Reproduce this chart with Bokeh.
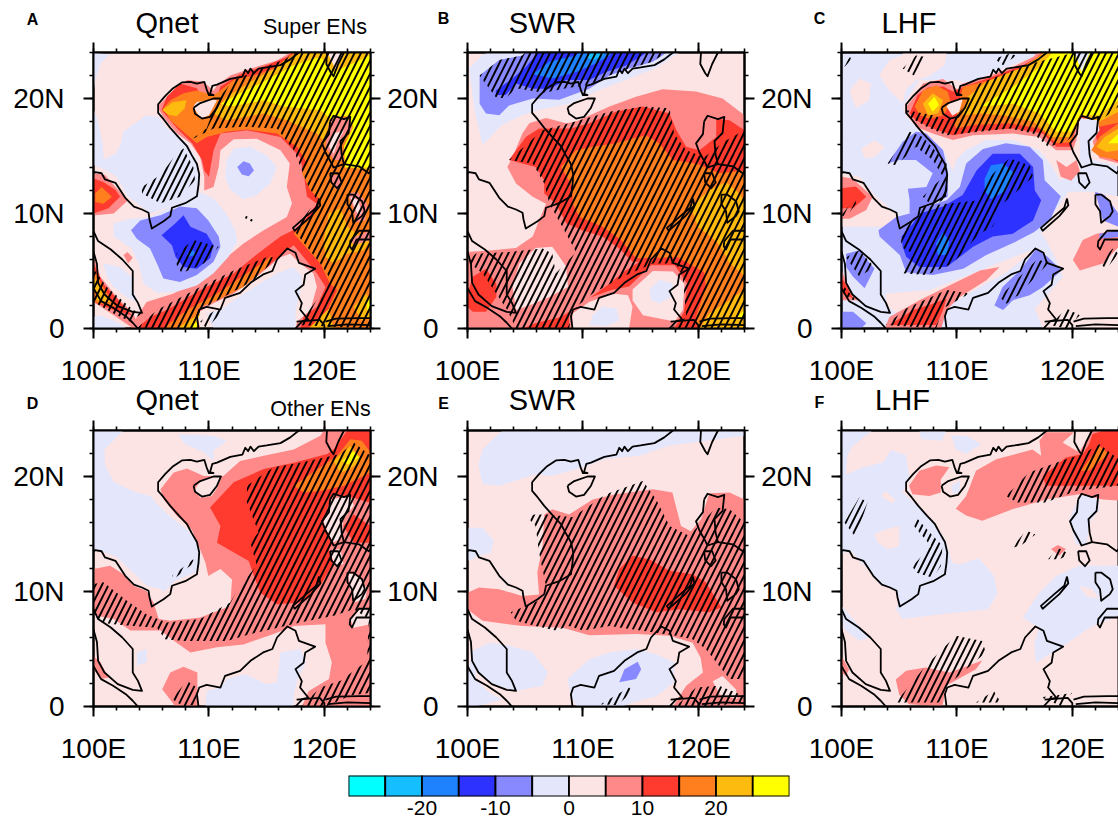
from bokeh.plotting import figure
from bokeh.layouts import row, column
from bokeh.models import Range1d, FixedTicker, LinearAxis, CustomLabelingPolicy
from bokeh.core.properties import value
from bokeh.embed import file_html
from bokeh.resources import INLINE

LEVEL_COLORS = ["#00FFFF", "#14BEFF", "#1E82FF", "#2D32FF", "#8888FF", "#E4E6FB",
                "#FCE4E4", "#FF8888", "#FF3A2E", "#FF7F1E", "#FDBB10", "#FFFF00"]
LEVEL_EDGES = [-30, -25, -20, -15, -10, -5, 0, 5, 10, 15, 20, 25, 30]
BAR_TICKS = [-20, -10, 0, 10, 20]
LON_TICKS = [100, 110, 120]
LAT_TICKS = [0, 10, 20]
MINOR_LON = [100, 102, 104, 106, 108, 110, 112, 114, 116, 118, 120, 122, 124]
MINOR_LAT = [0, 2, 4, 6, 8, 10, 12, 14, 16, 18, 20, 22, 24]

COAST = [
 [(117.8,24),(117.05,23.4),(116.2,22.9),(115,22.7),(114.3,22.6),(113.9,22.2),(113.6,22.6),(113.4,22.2),(113.15,22.5),(112.9,21.9),(111.85,21.7),(110.7,21.2),(110.3,21.1),(110.1,20.4),(110.4,20.3),(110,20.3),(109.8,20.8),(109.6,21.45),(108.96,21.3),(108.4,21.45),(107.66,21.4),(106.9,20.9),(106.2,20.2),(105.6,19.5),(105.6,18.75),(106.07,18.2),(106.65,17.45),(107.4,16.6),(108.1,15.85),(108.5,15.1),(108.96,14.3),(109.16,13.4),(109.1,12.5),(108.96,11.5),(107.95,10.9),(106.8,10.5),(106.65,9.77),(106.07,9.33),(105.05,8.7),(104.85,9.5),(104.77,10.06),(104.2,10.35),(103.5,10.6),(102.75,11.36),(101.9,12.67),(101,12.96),(100.7,13.5),(100.15,13.6),(100,13.5)],
 [(100,8.46),(100.4,7.6),(101.5,6.87),(102.5,6),(103.4,5),(103.4,2.96),(103.85,2.23),(104.2,1.36),(103.4,1.45),(102.1,1.94),(100.95,2.96),(100.4,3.97),(100.3,5.6),(100,6.7)],
 [(100,3.5),(100.66,2.38),(101.7,1.8),(102.8,1.07),(103.4,0.5),(103.85,0)],
 [(109.1,0),(108.96,1.07),(109.16,1.65),(109.8,1.88),(111,1.65),(111.4,2.67),(112.7,3.1),(113.6,3.97),(114.7,4.7),(115.5,5),(115.9,6),(116.8,6.96),(117.5,6.58),(117.8,5.7),(119.2,5.2),(118.35,4.7),(118.2,3.8),(117.5,3.25),(118.05,2.2),(117.9,1.65),(118.6,0.78),(118.1,0.64),(117.5,0)],
 [(108.67,19.2),(109.25,19.6),(110.4,20),(111.04,20),(110.7,19.2),(110.1,18.4),(109.4,18.26),(108.8,18.67),(108.67,19.2)],
 [(120.23,24),(120.17,23),(120.6,22.2),(120.8,21.94),(121.2,23),(121.7,24)],
 [(120.5,18),(120.8,18.5),(121.7,18.2),(122.25,18.4),(122.1,17),(121.4,16.3),(121.5,15.1),(121.7,14.3),(123,14.1),(123.85,13.5),(124,13.7)],
 [(120.5,18),(120.4,16.9),(119.8,16.1),(120.1,15.3),(120.6,14.4),(120.8,14),(121.7,14.3)],
 [(120.5,13.5),(121.2,13.5),(121.5,12.7),(121.1,12.2),(120.6,12.7),(120.5,13.5)],
 [(122,11.65),(122.5,11.65),(123.27,11.07),(123.5,10.2),(123.25,9.77),(122.5,9.2),(122.4,10.2),(122,10.8),(122,11.65)],
 [(124,8.5),(123,8.5),(122.25,7.6),(122.2,7.15),(122.4,6.87),(122.8,7.74),(124,7.74)],
 [(119.54,11.3),(119.65,10.7),(118.87,9.77),(117.43,8.5),(117.28,8.75),(118.44,9.77),(119.3,10.5),(119.54,11.3)],
 [(117.6,0.6),(119.6,0.75),(120,0.3),(120,0)],
 [(120.1,0.6),(121,0.85),(123,0.9),(124,0.9)],
 [(120.3,0.2),(122,0.35),(124,0.3)],
]

A_FILLS = [
 (7,[(117.05,24),(115.9,23.3),(113.6,22.6),(111.85,22),(110.7,21.15),(110.4,20.7),(109.5,21.45),(108.1,21.6),(106.65,20.4),(105.5,19.3),(106.05,18.4),(107.2,17),(108.4,16.1),(109.25,14.9),(109.6,13.2),(109.6,12),(110.4,12.3),(110.85,14.05),(111,15.5),(112.15,16.45),(114.15,16.5),(116.2,15.5),(117,14.35),(116.75,12.3),(117.2,10.9),(116.75,9.7),(114.75,8.55),(113,7.4),(111.25,5.95),(109.25,4.5),(106.95,3.05),(104.6,2.3),(103.75,1),(103.3,0),(109.25,0),(108.95,1.3),(110.4,2.2),(112.15,3.05),(114.15,4.5),(116.2,6.2),(117.05,6.5),(117.9,5.65),(119.05,4.8),(119.35,3.6),(118.8,1.6),(117.65,0.6),(117.5,0),(124,0),(124,24)]),
 (8,[(117.2,24),(116.75,23.6),(115,22.9),(112.7,22.1),(111,21.05),(110.7,20.15),(109.25,20.45),(108.95,20.9),(107.5,21.3),(106.35,20.15),(105.9,19),(107.25,17.4),(108.55,16.1),(109.4,14.65),(109.6,13.75),(110,13.2),(110.4,15.5),(111,16.95),(113.3,17.25),(116.2,16.65),(117.9,14.9),(118.2,13.5),(118.5,11.45),(119.35,10.85),(117.9,8.85),(116.2,8),(113.9,6.25),(112.15,4.8),(109.25,3.35),(106.35,1.6),(104.9,1),(103.75,0),(109,0),(109,1.75),(110.7,2.75),(113,3.9),(115,5.35),(116.75,6.8),(117.35,7.25),(119.35,4.8),(120.1,3.6),(119.35,1.9),(118.2,1),(117.9,0),(124,0),(124,24)]),
 (9,[(117.35,24),(115.6,22.6),(113.9,22),(112.15,21.6),(111,20.7),(110.4,20.3),(108.95,20.7),(107.8,20.45),(106.65,19.85),(106.05,19.15),(106.65,18.1),(107.95,16.95),(108.95,16.1),(109.8,16.65),(111.55,17.1),(113.3,17.3),(115.9,16.95),(117.65,15.8),(118.5,14.35),(118.05,13.5),(118.8,12),(119.65,11.15),(119.05,10),(117.35,8.25),(119.65,5.65),(120.5,3.9),(121.1,3.35),(120.4,1.9),(120.4,0),(124,0),(124,24)]),
 (10,[(117.65,24),(116.2,22.9),(113.9,21.6),(111.55,20.15),(110.4,18.7),(111.55,18.1),(114.75,18.7),(116.75,18.1),(119.35,16.95),(119.95,16.35),(120.4,17.7),(120.8,18.55),(122,18.4),(122.4,17.55),(121.7,15.8),(122,14.05),(124,13.75),(124,24)]),
 (11,[(117.35,22.9),(119.65,23.6),(120.8,22.3),(123.7,23.6),(124,23.9),(124,14),(121.8,14),(121.7,15.8),(122.55,17.55),(122,18.55),(120.55,18.25),(119.65,19),(116.5,19.3),(114.75,19.85),(111.85,19.3),(111,19.55),(112.7,20.45),(115,21.6)]),
 (10,[(105.95,19.0),(106.9,19.7),(108.05,19.85),(107.9,19.15),(107.2,18.45),(106.45,18.6)]),
 (10,[(119.95,7.7),(120.4,10),(121.4,10.45),(122,8.85),(122.85,8.25),(124,7.7),(123.4,6.8),(122,6.5),(120.8,5.65),(120.1,6.25)]),
 (10,[(122.55,1.9),(123.7,3.05),(124,1),(123.25,0.7)]),
 (11,[(123.7,2.3),(124,2.9),(124,1.5),(123.7,1.6)]),
 (10,[(118.65,0),(120.4,1.75),(120.8,0)]),
 (9,[(106.05,0),(108.1,1.6),(110.7,3.05),(113.3,4.8),(115,5.95),(115.45,6.4),(115,5.35),(113,3.6),(110.7,2.45),(109,1.75),(109,0)]),
 (10,[(107.2,0),(109.25,1.3),(109,0.7),(109,0)]),
 (11,[(108.25,0),(109,0.6),(109,0)]),
 (7,[(100,6.2),(100.6,4.5),(102,2.75),(103.45,1.3),(104.05,0),(103.45,0),(101.75,1.15),(100,2.3)]),
 (8,[(100,5.65),(100.85,3.9),(102.3,2.3),(103.3,1.15),(101.75,1.6),(100,2.3)]),
 (9,[(100,5.2),(100.85,3.6),(101.9,1.9),(100,2.3)]),
 (10,[(100,4.5),(100.85,3.2),(101.45,2.3),(100.3,2.45)]),
 (7,[(100,13.5),(101,13.35),(101.9,12.3),(103,11.15),(101.75,10),(100.15,9.85),(100,10)]),
 (8,[(100,13.05),(100.85,12.75),(101.9,12.05),(102.3,11.45),(101.3,10.45),(100,10)]),
 (9,[(100.15,11.75),(100.7,12.3),(101.6,11.45),(100.85,10.85),(100.15,11)]),
 (5,[(100,19.15),(100.45,17.85),(100.8,16.1),(100.9,14.7),(101.9,15.2),(102.45,16.25),(102.55,17.1),(103.45,17.75),(104.6,18.55),(105.65,18.4),(106.35,17.4),(108.1,16.1),(108.95,14.65),(109.25,13.2),(109.15,11.9),(108.1,11.15),(106.65,10.6),(104.9,10),(104.35,10.45),(103,11.45),(102,13.2),(100.85,13.9),(100,14.2)]),
 (5,[(106.65,10.6),(109.15,11.9),(110.4,11.3),(111.4,10.15),(112.3,8.55),(112.45,7.55),(111.7,6.25),(110.4,4.8),(108.95,3.75),(107.2,3.2),(105.5,3.1),(104.35,3.9),(103.9,5.65),(103.3,6.95),(101.75,8),(101.75,9.15),(103.2,9.55),(104.9,9.7)]),
 (5,[(100.85,5.65),(102.3,5.35),(103.3,4.5),(103.4,3.35),(103.9,2.3),(103,2.6),(101.75,3.6),(101.15,4.5)]),
 (7,[(102.6,6.4),(102.95,6.65),(103.4,6.15),(103,5.65)]),
 (5,[(100,1),(100.6,1.15),(101.9,0.6),(102.9,0),(100,0)]),
 (5,[(110.4,0),(109.8,1.3),(111,1.6),(112.15,2.45),(113.9,3.6),(115.9,4.8),(117.35,5.35),(118.05,4.5),(117.9,3.05),(117.5,1.6),(117.5,0)]),
 (5,[(100,24),(101.4,23.8),(100.6,23),(100.15,21.5),(100,20.5)]),
 (5,[(111.55,14.65),(112.15,15.65),(113.6,15.8),(115,15.05),(115.9,14.05),(115.3,12.6),(114.15,11.6),(113,11.25),(111.85,12.05),(111.4,13.2)]),
 (4,[(112.45,14.05),(113,14.55),(113.55,14.35),(113.9,13.75),(113.45,13.25),(112.85,13.4)]),
 (4,[(103.25,8.55),(104.05,9.4),(105.8,9.85),(107.5,10.6),(108.95,10.45),(109.95,9.4),(110.85,8),(111,7.1),(110.4,5.8),(108.95,4.65),(107.5,4.05),(106.05,4.35),(105.5,5.65),(104.9,6.95),(103.75,7.8)]),
 (3,[(105.9,8.1),(107.1,9.15),(107.8,9.85),(108.4,8.85),(109.8,8.25),(110.4,7.25),(110.1,6.1),(108.95,5.2),(107.8,5.35),(107.1,6.25),(106.8,7.25)]),
 (2,[(108.1,6.5),(108.7,6.8),(108.8,6.4),(108.25,6.25)]),
 (7,[(120.4,17.85),(120.95,18.55),(122.25,18.1),(122.4,17.4),(121.4,16.1),(121.7,14.65),(120.8,14.65),(120.1,15.8)]),
 (6,[(120.8,16.95),(121.7,17.25),(121.1,16.1),(120.8,15.2),(120.4,15.8)]),
 (7,[(120.5,13.35),(121.25,13.35),(121.5,12.3),(120.95,12.15)]),
 (7,[(122,11.75),(122.85,11.9),(123.7,10.85),(123.55,9.4),(122.7,9.25),(122.55,10.3)]),
 (6,[(122.25,11.45),(122.95,11.15),(123.25,10),(122.85,10)]),
 (7,[(122.25,7.8),(124,8.55),(124,7.7),(122.55,7.25)]),
 (6,[(108.65,19.3),(108.95,19.7),(110.4,19.9),(110.7,19.85),(110,18.55),(109.25,18.25)]),
 (6,[(120.25,24),(121.7,24),(121,22.5)]),
]
A_HATCH = [
 [(117.3,24),(116.75,23.5),(112.15,21.6),(110.7,19.85),(109.8,17.4),(108.4,16.4),(110.4,17.4),(113,17.55),(115.9,17.4),(117.35,15.5),(118.5,12.6),(119.35,11.15),(117.35,8.55),(119.65,5.65),(120.4,4.5),(119.35,2.45),(117.65,0.3),(124,0),(124,24)],
 [(103.75,0),(105.5,1.6),(109.25,3.6),(112.15,5.05),(115,6.2),(115.9,6.2),(113.9,4.2),(111.55,2.9),(109.25,1.6),(109,0)],
 [(100,5.2),(101.15,3.6),(103.45,1.6),(104.2,1.3),(103.15,0.6),(101.75,1.3),(100,2.3)],
 [(104.2,12.3),(105.8,13.35),(107.2,15.2),(107.8,15.65),(108.65,14.05),(108.8,12.9),(107.5,11.45),(105.8,10.9),(104.2,11.75)],
 [(107.2,6.5),(108.65,7.7),(110.85,7.1),(109.55,5.65),(107.65,4.8),(107.15,5.65)],
 [(113.15,9.85),(113.9,9.4),(113.9,9.2),(113.1,9.6)],
 [(109.25,0.6),(110.7,1.75),(111.15,1.45),(109.8,0)],
]

B_FILLS = [
 (5,[(101.8,24),(118.5,24),(118.05,23.8),(116.3,22.6),(114,21.75),(111.1,20.6),(108.8,19.55),(106.2,19),(104.75,18.55),(103,17.7),(101.3,15.95),(100.6,19),(100.15,22.6),(101.3,23.8)]),
 (4,[(101.05,22),(102.75,23.35),(104.75,23.75),(105,24),(117.2,24),(116.9,23.75),(116.05,23.2),(114,22.6),(112.3,22),(110.55,20.85),(107.95,19.9),(105.65,20),(103.6,19.4),(102.75,18.55),(101.6,18.7),(101.05,19.55)]),
 (3,[(102.45,20.7),(103.9,21.75),(105.05,22.75),(105.9,23.75),(106,24),(115.5,24),(115.15,23.75),(113.7,22.85),(112,22.3),(110.55,21.6),(108.55,21.6),(107.1,20.85),(105.65,20.85),(104.2,21.3),(103.3,20.3),(102.45,20.3)]),
 (2,[(105.65,22.1),(107.1,23.2),(109.4,23.75),(109.6,24),(112.5,24),(112.3,23.75),(111.1,23.05),(109.4,22.3),(107.35,21.75)]),
 (1,[(110.3,23.6),(110.6,24),(111.9,24),(111.7,23.75),(110.85,23.3)]),
 (7,[(124,18.55),(122.1,20),(119.8,20.6),(116.9,20.8),(114.6,20.15),(112.3,19.3),(109.4,18),(108.55,17.85),(106.8,18.3),(105.35,17.85),(104.75,16.95),(103.9,14.9),(103.45,14.05),(104.2,12.6),(105.65,11.45),(106.8,10.85),(106.2,9.4),(105.65,8),(104.2,7),(102.15,6.8),(100,6.65),(100,0),(124,0)]),
 (8,[(124,17.25),(122.7,18.1),(121.55,18.25),(121.55,16.65),(120.1,15.5),(118.95,15.8),(118.1,17.25),(117.5,18.7),(115.2,19.3),(112.85,18.85),(110.55,17.85),(108.95,17.4),(106.2,17.4),(105.05,16.65),(103.6,14.65),(105.9,14.05),(106.65,12.9),(106.65,11.75),(107.65,10.85),(108.55,9.15),(109.95,8.55),(111.7,8),(113.15,6.95),(114.3,5.8),(114.9,5.8),(113.45,4.9),(112.3,3.9),(109.95,2.2),(108.1,1),(105.85,0.45),(104.8,0),(124,0)]),
 (9,[(108.1,14.05),(109.4,15.5),(110.85,15.8),(112.85,16.1),(115.45,16.8),(116.6,16.1),(117.8,14.65),(119.8,14.35),(121.8,13.5),(124,13.75),(124,0),(119.95,0),(119.8,1),(120.65,3.6),(120.5,4.9),(118.2,6.2),(114.6,6.1),(113.3,7.7),(111.7,8.85),(109.7,9.7),(109.1,10.85),(109.1,12.3)]),
 (10,[(119.35,10.6),(120.95,12),(122.4,12.75),(123.55,11.75),(124,11),(124,4.6),(122.7,5.7),(121.85,7.25),(120.95,8.1),(119.95,8.85)]),
 (10,[(120.1,0),(120.95,1.3),(122.7,2.45),(124,3.4),(124,0)]),
 (11,[(123.4,1),(124,1.6),(124,0.9)]),
 (8,[(100,3),(100.45,4.5),(101.6,5.2),(102.5,3.9),(102.5,2.75),(101.6,1.45),(100.45,1.45),(100,1.9)]),
 (7,[(108.8,0),(108.8,1.45),(110.4,2.6),(112.45,3.35),(114,3.65),(115.9,5.5),(117.95,5.5),(119.05,3.9),(118.75,1.45),(117.9,0)]),
 (6,[(103.9,3.6),(104.5,5.65),(105.9,7),(107.35,7.1),(108.55,5.4),(108.7,3.6),(107.1,2.75),(105.35,2),(104.2,1.6)]),
 (6,[(109.1,0),(109.1,1.3),(110.55,2.3),(112.55,3.05),(113.9,2.9),(114.3,1.9),(114,0)]),
 (6,[(114.3,3.4),(116.05,5),(117.8,4.95),(118.8,3.9),(118.65,1.6),(117.95,0.6),(115.2,1.15),(114.3,2.45)]),
 (5,[(110.85,1.15),(111.7,1.9),(112.9,1.75),(113.15,0.7),(112,0.2),(110.55,0.3)]),
 (5,[(115.75,3.35),(116.6,4.25),(117.8,3.9),(117.65,2.75),(116.6,2.2),(115.9,2.5)]),
]
B_HATCH = [
 [(103.6,14.65),(106.5,17.25),(108.8,17.85),(112.3,18.85),(115.2,19.3),(117.5,19.15),(117.9,16.95),(118.95,15.5),(120.5,14.9),(122.4,16.35),(124,17.25),(124,0),(117.65,0),(118.95,1),(118.65,4.5),(118.05,5.65),(116.05,5.65),(113.45,4.5),(110.85,3.05),(109.1,1.6),(108.8,0),(104.2,0),(103.45,1.6),(101.3,4.8),(100,5.8),(100.7,6.5),(103.6,6.65),(106.5,6.95),(107.35,6.5),(107.65,4.8),(108.5,5.65),(109.4,6.65),(108.55,8.25),(107.1,10.85),(106.65,12.6),(105.65,14.35)],
 [(101.05,22),(102.75,23.35),(104.75,23.75),(105,24),(117.2,24),(116.05,23.2),(114,22.6),(112.3,22),(110.55,21.2),(108.55,20.9),(106.65,20.5),(104.2,20.9),(103.3,20),(102.45,20.1)],
]

C_FILLS = [
 (6,[(103.3,22),(104.15,23.35),(105.3,23.75),(105.3,24),(109.1,24),(108.95,22.9),(107.65,22),(106.45,21.55),(105.6,20.85),(105.3,19.55),(104.1,20.75)]),
 (6,[(105.3,19.3),(106.75,21.6),(109.95,21.6),(110.8,21.3),(114.3,22.75),(116.6,23.6),(117,24),(124,24),(124,14.1),(121.8,14.65),(120.65,14.9),(120.65,13.5),(118.9,12.9),(118.3,14.05),(117.15,15.5),(114.85,16.4),(112.55,16.4),(110.8,15.5),(109.95,14.65),(109.65,13.75),(109.2,14.65),(108.8,15.65),(107.05,16.95),(105.6,18.4)]),
 (6,[(117.3,8.25),(118.8,10.6),(119.65,11.9),(121.8,11.9),(124,11.5),(124,0),(117.45,0),(116.75,1.75),(117.9,3),(119.2,4.5),(118.5,6.2),(117.75,7.65)]),
 (6,[(103.85,3.05),(107.65,3.35),(112,5.05),(114.85,6.2),(116.9,6.95),(114.3,4.9),(112,3.6),(108.8,1.75),(105.3,1),(103.85,2)]),
 (6,[(100.7,20.7),(101.55,21.75),(102.55,21.3),(102.4,19.85),(101.25,19.15)]),
 (6,[(101.7,15.65),(102.85,16.35),(103.75,15.8),(102.85,14.9),(102,14.8)]),
 (6,[(100,13.5),(101.55,13.2),(103,11.45),(104.75,10),(104.75,8.55),(103.3,8.85),(100,8.85)]),
 (7,[(103.75,0),(104.15,1),(106.75,2.45),(109.65,3.9),(112,5.05),(113.7,5.35),(112.55,4.2),(110.25,2.75),(109.1,1.6),(108.65,0)]),
 (8,[(104.15,0.3),(106.2,1.6),(107.9,2.15),(109.1,2.6),(108.8,1.6),(108.2,0.3)]),
 (7,[(105.6,19.3),(106.2,20),(107.05,21.3),(108.8,21.7),(110.1,20.75),(110.5,21.3),(112.55,21.9),(114.85,22.75),(116.6,23.6),(117,24),(124,24),(124,14.35),(122.35,14.8),(121.8,16.1),(121.5,17.85),(120.65,18.4),(120.35,16.4),(120.05,15.5),(118.6,15.5),(117.15,16.65),(114.85,16.95),(111.4,16.8),(109.65,16.4),(107.9,16.95),(106.45,17.55),(105.9,18.4)]),
 (8,[(105.9,18.7),(106.6,20.3),(107.5,20.95),(108.8,21.05),(109.65,20.6),(110.5,21),(113.1,21.9),(115.7,22.9),(116.9,23.55),(117.4,24),(124,24),(124,14.5),(122.35,15.2),(121.95,17.25),(120.65,18.45),(120.2,17.1),(119.9,15.8),(118.6,15.8),(117.45,16.95),(114.85,17.4),(111.95,17.2),(109.65,16.8),(107.9,17.4),(106.45,18.1)]),
 (9,[(106.35,19.3),(107.05,20.7),(108.2,21.15),(109.2,20.6),(109.5,19.55),(108.8,18.55),(107.65,18.25),(106.8,18.55)]),
 (10,[(107.05,19.55),(107.9,20.45),(108.8,19.85),(108.35,18.7),(107.5,18.55)]),
 (11,[(107.5,19.55),(108.05,20.15),(108.45,19.45),(107.9,18.85)]),
 (9,[(109.8,17.7),(110.5,21),(113.1,21.65),(116,22.75),(117.15,23.75),(117.4,24),(124,24),(124,17.9),(122.35,17.55),(120.65,18.55),(120.2,17.25),(119.9,16.2),(118.6,16.1),(117.15,17.4),(114.55,17.85),(111.4,17.7),(109.95,17.4)]),
 (10,[(110.5,18.55),(110.95,20.15),(112.55,21.45),(115.45,22.6),(117.3,23.75),(117.5,24),(124,24),(124,18.85),(122.35,18),(120.65,18.55),(119.9,16.65),(118.3,16.65),(116.6,18),(114,18.55),(112,18.7)]),
 (11,[(112,19.3),(114.85,21),(117.15,22.75),(118.05,23.75),(118.3,24),(124,24),(124,19.85),(122.35,18.55),(120.65,18.55),(119.9,17.1),(118.6,17.1),(117.15,18.7),(114.85,19.55)]),
 (5,[(120.2,24),(121.5,24),(120.8,22.3)]),
 (9,[(121.65,15.5),(122.35,16.65),(124,17.85),(124,14.65),(122.35,14.95)]),
 (10,[(122.1,15.8),(122.8,16.65),(124,17.4),(124,15.5),(122.95,15.35)]),
 (11,[(123.1,16.1),(124,16.95),(124,16.1)]),
 (5,[(120.65,17),(120.65,18.3),(122.2,18.1),(122.35,17.25),(121.65,16.1),(121.5,14.65),(120.65,14.65)]),
 (6,[(109.1,19.3),(109.45,19.7),(110.5,19.95),(110.2,18.85),(109.6,18.5)]),
 (7,[(118.6,14.65),(119.5,14.05),(120.35,14.65),(120.65,13.7),(119.9,12.85),(119,13.2)]),
 (7,[(120.05,5.95),(120.9,7.7),(122.1,8.25),(124,8.55),(124,7.1),(122.65,5.65),(120.65,5.05)]),
 (7,[(100,13.2),(100.95,13.05),(102.7,11.45),(102.15,10.3),(100.7,9.55),(100,9.55)]),
 (8,[(100,12.2),(101.25,12.35),(102.15,11.45),(101,10.45),(100,10.45)]),
 (4,[(104,14.35),(105.3,16.25),(106.45,17.1),(107.35,16.95),(108.8,15.5),(109.2,13.75),(109.2,11.45),(107.05,10.45),(105.9,10),(105.9,11.15),(105.75,12.15),(107.35,12.3),(107.9,13.5),(106.45,14.65),(105,14.65)]),
 (4,[(103.2,8.55),(104.75,9.7),(105.9,10),(107.35,10.6),(109.1,11.15),(110.25,12.3),(110.8,14.35),(112.25,15.6),(114.25,16.1),(116.3,15.8),(117.45,14.65),(117.6,12.9),(119,11.5),(118.1,9.5),(116.7,8.4),(115,7.5),(112.55,6.4),(110.55,5.2),(107.9,4.65),(105.6,4.9),(105.05,6.4),(103.3,8)]),
 (3,[(105.2,8),(106.2,9.15),(106.75,10),(108.8,10.6),(110.5,11.6),(111.7,13.75),(113.1,15.2),(115.45,15.2),(116.6,14.05),(116.75,12),(117.3,11.15),(116.6,9.4),(114.85,8.25),(113.1,8),(111.4,7.1),(109.1,5.35),(106.75,5.35),(105.6,6.25),(105.3,7.1)]),
 (2,[(112.4,13),(112.95,14.2),(114,14.35),(115,13.5),(114.25,12),(112.95,11.25),(112.4,12)]),
 (2,[(108.2,7.4),(108.8,8.4),(109.35,7.55),(109.1,6.4),(108.35,6.4)]),
 (4,[(100.4,6.5),(101.55,6.8),(102.85,5.2),(102,3.5),(101,4.5),(100.4,5.35)]),
 (7,[(100,5.05),(101,2.9),(101.7,2.45),(100.1,2.45)]),
 (8,[(100,4.5),(100.7,3.2),(101,2.6),(100.1,3.05)]),
 (4,[(100,1.45),(101,1.45),(102.15,0.45),(101.7,0),(100,0)]),
 (4,[(122.1,11.45),(121.95,11.9),(122.8,11.6),(124,10),(124,8.85),(122.65,9.4)]),
 (4,[(122.35,8.25),(124,8.55),(124,7.95),(122.35,7.8)]),
 (4,[(113.25,2),(113.95,3.6),(115.45,5.05),(116.9,6.95),(117.9,6.2),(119.05,5.05),(117.45,3.6),(116.3,2.9),(114.85,2.45),(114,1.6)]),
]
C_HATCH = [
 [(110.25,18.85),(111.95,21.3),(113.7,22),(116.3,23),(120.2,24),(124,24),(124,19.3),(122.35,18),(120.65,18.55),(120.2,16.95),(119.5,16.25),(117.9,15.8),(116.6,16.95),(114.55,17.4),(111.95,17.1),(109.1,16.8)],
 [(105.6,19),(107.9,18.55),(109.1,18.1),(110.25,18.7),(109.1,16.8),(107.35,17.55),(105.9,18.4)],
 [(105.2,8.25),(107.05,10.6),(109.1,10.85),(111.95,11.15),(112.55,12.9),(114.55,14.8),(116.3,14.2),(116.6,13.2),(115.15,11.9),(113.7,10.6),(113.1,8.85),(111.95,8.25),(109.65,5.65),(107.35,4.65),(105.3,4.8),(106.2,6.5),(105.15,7.1)],
 [(104,14.35),(105.9,17.1),(107.05,16.65),(109.1,14.35),(109.2,11.45),(107.9,10.6),(107.05,11.45),(108.8,13.2),(107.9,14.65),(106.45,15.8),(104.75,14.2)],
 [(105.3,22.6),(106.45,23.75),(107.35,23.6),(106.45,21.9)],
 [(113.25,23.45),(114.55,23.9),(115.15,23.75),(114,22.9)],
 [(100.1,22.9),(100.75,23.6),(100.85,23.4),(100.25,22.75)],
 [(100,9.85),(101.15,11.3),(101.25,10.85),(100.4,9.7)],
 [(100.4,6.2),(101.55,6.8),(102.85,5.35),(101.55,4.5)],
 [(100,3.9),(101.4,2.3),(100.4,2.75),(100,3.35)],
 [(103.85,0.3),(105.6,1.75),(109.1,3.35),(111.1,3.05),(108.8,1.75),(108.2,0)],
 [(113.7,2.75),(116.9,5.95),(118.05,5.8),(115.3,2.9),(114.3,2.15)],
 [(122.35,5.65),(123.5,6.95),(124,6.5),(122.95,5.2)],
 [(118.05,0.3),(119.5,1.75),(120.65,1.15),(119.5,0)],
]

D_FILLS = [
 (5,[(100,24),(102.6,24),(101.75,23.15),(100.95,22.35),(101,20.95),(101.75,19.55),(103.5,18.7),(104.95,18.3),(105.5,17.65),(106.65,16.5),(108.1,15.4),(109.25,13.9),(109.25,12.45),(109,11.75),(107,10.9),(106.15,10),(105.55,10.3),(104.7,10.45),(103,12.05),(102,13),(100.6,13.55),(100,13.55)]),
 (5,[(107.35,23.7),(110.4,23.55),(111.55,23.1),(110.4,22.25),(110.4,21.35),(109.55,22.1),(107.8,22.9)]),
 (5,[(109.7,0),(109.8,1.35),(111,1.65),(111.55,2.4),(113.15,2.8),(115,1.95),(115.9,2.1),(116.2,4.7),(117.9,5),(118.4,3.8),(117.7,2.4),(117.35,1),(117.35,0)]),
 (5,[(103.75,4.7),(104.6,5),(104.6,3.85),(103.75,3.55)]),
 (7,[(105.8,18.9),(106.95,20.35),(108.1,20.7),(109.55,20.05),(111.25,20.05),(112.7,21.35),(114.75,21.8),(117.35,22.35),(119.65,23.55),(119.95,24),(124,24),(124,0),(118.05,0),(118.65,1.35),(120.4,2.4),(120.65,3.85),(120.1,5.55),(120.1,7.15),(117.35,7),(115.6,6.3),(113,5.4),(110.7,5.15),(108.4,4.7),(107.2,5.55),(105.8,6.6),(103.2,6.6),(101.75,7.6),(100.3,7.9),(100,8.2),(100,11.95),(101.45,12.25),(102.6,11.5),(103.45,10.5),(104.6,10.05),(105.2,9.05),(105.65,7.6),(106.65,7.45),(109.25,7.75),(111.85,8.75),(112,11.05),(111,11.95),(109.95,11.35),(109.7,12.5),(109.1,14),(108.5,15.4),(107.2,16.6),(106.05,18.05)]),
 (6,[(108.8,18.9),(109.25,19.65),(110.4,20),(111.1,20.05),(110.7,19),(110.25,18.3),(109.25,18.15)]),
 (6,[(119.95,16),(120.4,18),(122.25,18.3),(122.55,17.45),(121.65,16.3),(121.4,14.55),(120.65,14.25)]),
 (6,[(120.4,13.55),(121.4,13.7),(121.65,12.4),(120.95,12.2)]),
 (6,[(122,11.65),(123,11.35),(123.7,10.2),(123.55,9.35),(122.55,9.05),(122.25,10.2)]),
 (6,[(122.25,7.6),(123,8.45),(124,8.45),(124,7.15),(122.55,6.85)]),
 (7,[(100,4.4),(100.6,3.85),(101.3,2.5),(100.6,2.4),(100,3.25)]),
 (7,[(105.95,1.5),(106.65,2.95),(107.8,3.45),(109,2.95),(109,0),(107.1,0)]),
 (8,[(110.1,17.3),(112.15,19.5),(114.75,20.65),(117.35,21.2),(120.25,21.95),(120.8,22.35),(121.65,23.55),(122,24),(124,24),(124,17.7),(122.55,18.15),(120.8,18.45),(120.25,17.15),(119.8,16.15),(120.25,15.15),(120.8,14.25),(120.4,13.7),(120.8,12.5),(119.65,10.5),(117.9,9.05),(115.9,8.9),(114.45,9.9),(113.9,11.35),(113.45,12.65),(110.7,14.25),(111,15.7)]),
 (6,[(120.4,16),(120.75,18),(122,18),(122.2,17.45),(121.5,16.3),(121.3,14.75),(120.7,14.5)]),
 (8,[(121.65,15.7),(122.55,16.7),(124,15.7),(124,14.25),(122.55,14.25)]),
 (9,[(117.35,19.2),(119.65,20.8),(121.1,21.8),(122.25,23.25),(123.25,23.1),(124,22.1),(124,20.35),(121.7,19.2),(119.65,18.75),(118.2,18.6)]),
 (10,[(120.8,21.35),(122.25,22.65),(123.25,21.5),(122.25,20.65),(121.4,20.35)]),
 (11,[(121.55,21.35),(122.55,22.2),(123,21.65),(122,21.05)]),
]
D_HATCH = [
 [(113.3,19.2),(115.6,20.8),(117.9,21.2),(121.4,21.95),(122.55,22.95),(124,21.8),(124,3.8),(124,1.2),(122.25,0.95),(120.25,0.05),(118.05,0.05),(119.65,1.65),(121.4,2.25),(123.7,3.95),(123.85,7.6),(122.55,8.45),(120.8,7.9),(117.9,7.3),(113.6,6.3),(111.55,5.7),(107.8,5.7),(106.2,5.85),(105.5,6.85),(103.45,7),(101.75,7.15),(100.6,7.3),(100,8.2),(100,10.65),(100.85,10.8),(102.9,9.2),(104.6,8),(106.35,7.3),(109.25,7.6),(111.85,9.05),(112.7,10.5),(114.15,12.25),(113.6,14.25),(114.3,15.15),(113.3,17.75)],
 [(106.8,0.65),(108.1,2.25),(108.95,1.65),(108.95,0.2),(107.8,0)],
 [(106.8,11.35),(108.65,12.8),(108.7,12.5),(107,11.1)],
]

E_FILLS = [
 (5,[(103,24),(124,24),(124,23.55),(119.5,22.95),(117.5,22.7),(114.9,21.8),(112,21.55),(110.25,20.9),(107.35,20.05),(105.9,20.2),(104.5,19.75),(102.75,19.2),(101.3,19.35),(100.95,20.95),(101.3,22.35)]),
 (5,[(100,15.55),(101.3,15.55),(102.3,14.4),(102,13.4),(101,13.1),(100,12.65)]),
 (5,[(100,2.65),(100.45,4.85),(101.9,5.55),(103.6,5.3),(105.65,4.7),(106.95,2.95),(106.5,1.8),(104.2,1.35),(102.15,1.95),(100.7,3.25),(100.7,2.4),(101.9,1.2),(103,0.6),(100.7,0),(100,0)]),
 (5,[(108.65,2.4),(110.55,4.1),(112.3,4.7),(114.6,5),(116.35,4.55),(117.9,3.85),(117.9,2.1),(116.35,0.9),(114.3,0.35),(113.45,0),(109.4,0),(108.95,1.05)]),
 (4,[(113.15,2.1),(113.6,3.25),(114.75,3.9),(115.05,3.25),(114.6,2.4)]),
 (7,[(124,18),(122.7,18.6),(120.95,18.55),(120.25,16.3),(119.35,15.25),(118.5,15.7),(117.75,18.6),(116.05,18.9),(112.85,18.45),(110.85,18),(108.8,16.7),(107.35,17.15),(106.65,16.7),(106.5,13.95),(106.05,11.65),(106.2,9.75),(104.75,9.6),(102.75,10.2),(101,10.35),(100,9.9),(100,8.45),(101.3,7.45),(104.75,7),(108.25,6.85),(110.55,6.2),(114.6,6.3),(117.5,6.15),(119.5,5.55),(120.2,4.25),(120.4,2.95),(118.95,1.8),(117.8,0),(124,0)]),
 (6,[(121.25,2.2),(122.1,2.65),(123.25,1.5),(123.4,0.65),(121.85,1.05)]),
 (8,[(112.7,10.5),(113.15,11.95),(114.3,13.1),(115.75,12.8),(117.5,11.8),(119.5,11.5),(120.65,10.8),(122,8.6),(120.95,8.2),(118.35,8.45),(116.35,8.2),(114.3,9.05)]),
]
E_HATCH = [
 [(103.75,8.2),(106.5,9.35),(106.8,10.5),(106.2,13.4),(105.9,15.7),(105.2,16.45),(105.8,16.7),(107.1,16.7),(109.1,16.45),(112,18.45),(115.2,19.6),(116.35,18),(117.5,15.7),(119.2,14.85),(121.55,17.3),(122.7,17.15),(124,16),(124,2.4),(122.7,2.4),(120.65,5),(119.5,5.85),(118.05,6.15),(116.05,6.45),(112.3,7),(110,6.6),(108.8,7),(107.65,6.6),(105.9,7),(104.2,7.45)],
 [(118.05,0),(119.8,1.65),(121.8,1.8),(123.85,0.95),(124,0.35),(120.95,0)],
 [(111.55,0.2),(114,1.65),(114.3,1.35),(113,0.1)],
]

F_FILLS = [
 (5,[(100,24),(102.7,24),(101,22.7),(100.5,21.8),(100.4,20.2),(101.85,20.8),(103.6,21.25),(104.3,22.3),(105.6,21.85),(105.9,19.75),(105.3,18.6),(106.3,17.7),(107.9,16.2),(109,14.5),(109.6,12.5),(110.2,12.35),(111.9,12.9),(113.2,11.35),(113.5,9.9),(112.75,8.45),(110.2,8.2),(107.55,7.9),(105.3,7.6),(104.75,8.45),(105,9.35),(104.6,10.2),(103.3,10.6),(102.6,11.65),(101.55,12.65),(101,13.4),(100,13.4)]),
 (6,[(102.85,15),(103.85,15.4),(105,15.7),(105,13.95),(104,13.65),(103.1,14.3)]),
 (6,[(103.4,18.3),(103.85,18.75),(104.7,17.9),(104.4,17.7)]),
 (5,[(109.5,23.55),(110.8,23.55),(112.1,22.8),(110.8,21.95),(109.9,22.4)]),
 (5,[(106.75,24),(109.05,24),(108.75,23.1),(106.9,23.25)]),
 (5,[(119.75,16.3),(120.65,18.3),(122.2,18.45),(122.35,17.15),(121.5,16),(121.2,14),(120.3,14.1)]),
 (5,[(115.7,7.75),(117.15,9.9),(118.6,11.35),(120.6,12.25),(123.95,12.25),(124,7.9),(121.75,7),(119.15,5.25),(116.85,3.8),(116.7,5.55),(117.15,6.85)]),
 (6,[(120.6,10.5),(121.75,10.2),(122.35,9.35),(121.2,9.6)]),
 (5,[(100,8.75),(101.55,7),(102.4,6),(101.55,5.7),(100.25,6.7)]),
 (7,[(109.9,17.2),(110.8,18.3),(111.65,20.5),(113.4,21.5),(116.55,22.35),(117.3,21.8),(117.15,23.1),(117.7,23.85),(120.15,23.85),(119.15,22.95),(120.6,22.1),(121.75,24),(124,24),(124,17.9),(122.65,18),(120.6,18.45),(117.7,18),(114.8,17.15),(112.2,16.15),(110.8,16.6)]),
 (7,[(105.85,19.2),(106.75,20.5),(108.2,20.95),(109.35,20.8),(108.6,19.75),(108.6,18.6),(107.6,18.3),(106.15,18.45)]),
 (5,[(109.5,19.2),(110.25,19.65),(110.25,18.65),(109.65,18.5)]),
 (8,[(117.45,20.05),(119.45,21.65),(120.9,21.95),(121.45,22.8),(121.75,23.7),(122.8,24),(124,24),(124,19.2),(120.6,19.2),(117.7,19.2)]),
 (9,[(120.75,20.5),(122.35,22.65),(123.15,21.95),(121.45,20.5)]),
 (7,[(118.15,13.7),(118.75,14.05),(119.45,13.7),(118.85,13.1)]),
 (7,[(104.7,2.35),(105.6,3.1),(107.3,3.4),(109.35,2.95),(112.2,4),(111.65,3.25),(109.05,1.8),(108.75,0),(105.85,0.2),(105,1.05)]),
 (7,[(100,4.4),(100.65,3.25),(100.4,2.65),(100,2.95)]),
]
F_HATCH = [
 [(114.25,18.3),(116.25,20.35),(119.45,21.5),(120.9,21.95),(122.35,22.8),(124,21.5),(124,19.2),(120.3,18.75),(117.7,17.75),(115.25,17.75)],
 [(100.25,16),(101.55,18.2),(102.25,17.75),(101.25,14.7)],
 [(106.15,15.85),(106.6,16.3),(107.9,14.85),(108.75,14),(108.6,12.2),(107.9,11.2),(106.45,11.65),(106.15,12.2),(107.75,13.95)],
 [(104.7,0.35),(107.3,3.55),(109.9,6.15),(112.2,5.7),(112.5,4.7),(109.6,2.2),(108.75,0.35)],
 [(114.7,13.75),(116,15.3),(116.8,14.95),(115.7,14.1)],
 [(117.9,12.8),(118.75,13.8),(119.75,13.25),(118.9,12.8)],
 [(111.65,0.35),(113.2,1.35),(113.8,0.35)],
 [(117.3,0.8),(119.15,1.05),(120,1.2),(119,0.05)],
]

FONT = "Liberation Sans"
TITLES_1 = ["Qnet", "SWR", "LHF"]
TITLES_2 = ["Qnet", "SWR", "LHF"]
LETTERS_1 = ["A", "B", "C"]
LETTERS_2 = ["D", "E", "F"]


def panel(fills, hatch, left, right, bg=6, right_axis=True):
    p = figure(frame_width=277, frame_height=276, x_range=Range1d(100, 124), y_range=Range1d(0, 24),
               toolbar_location=None, output_backend="svg", min_border_left=left, min_border_right=right,
               min_border_top=14, min_border_bottom=60, background_fill_color=LEVEL_COLORS[bg],
               x_axis_location=None, y_axis_location=None)
    p.grid.visible = False
    p.outline_line_color = "black"
    p.outline_line_width = 2
    p.patches([[q[0] for q in f[1]] for f in fills], [[q[1] for q in f[1]] for f in fills],
              fill_color=[LEVEL_COLORS[f[0]] for f in fills], line_color=None)
    p.patches([[q[0] for q in h] for h in hatch], [[q[1] for q in h] for h in hatch],
              fill_alpha=0, line_color=None, hatch_pattern="right_diagonal_line", hatch_color="black",
              hatch_scale=13, hatch_weight=1.9)
    p.multi_line([[q[0] for q in c] for c in COAST], [[q[1] for q in c] for c in COAST],
                 line_color="black", line_width=1.8, line_join="round")
    lon_t = FixedTicker(ticks=LON_TICKS, minor_ticks=MINOR_LON)
    lat_t = FixedTicker(ticks=LAT_TICKS, minor_ticks=MINOR_LAT)
    common = dict(axis_line_width=2, major_tick_line_width=2, minor_tick_line_width=1.6,
                  major_tick_in=0, minor_tick_in=0, major_tick_out=10, minor_tick_out=4)
    labels = dict(major_label_text_font=FONT, major_label_text_font_size="28px", major_label_text_color="black")
    no_labels = CustomLabelingPolicy(code="return;")
    p.add_layout(LinearAxis(ticker=lon_t, major_label_overrides={v: f"{v}E" for v in LON_TICKS},
                            major_label_standoff=16, major_label_orientation="horizontal", **common, **labels), "below")
    p.add_layout(LinearAxis(ticker=lat_t, major_label_overrides={0: "0", 10: "10N", 20: "20N"},
                            major_label_standoff=19, major_label_orientation="horizontal", **common, **labels), "left")
    p.add_layout(LinearAxis(ticker=lon_t, major_label_policy=no_labels, major_label_text_font_size="1px",
                            major_label_standoff=0, **common), "above")
    if right_axis:
        p.add_layout(LinearAxis(ticker=lat_t, major_label_policy=no_labels, major_label_text_font_size="1px",
                                major_label_standoff=0, **common), "right")
    return p


def header(height, titles, title_xy, letters, letter_xy, note, note_xy):
    # A strip of text above a row of panels; its scales are in page pixels.
    h = figure(width=1118, height=height, x_range=Range1d(0, 1118), y_range=Range1d(height, 0),
               toolbar_location=None, output_backend="svg", min_border=0, x_axis_location=None,
               y_axis_location=None, outline_line_color=None, background_fill_color=None,
               border_fill_color=None)
    h.grid.visible = False
    h.text([q[0] for q in title_xy], [q[1] for q in title_xy], text=titles, text_font=value(FONT),
           text_font_size="29px", text_align="center", text_baseline="middle", text_color="black")
    h.text([q[0] for q in letter_xy], [q[1] for q in letter_xy], text=letters, text_font=value(FONT),
           text_font_size="16px", text_font_style="bold", text_align="center", text_baseline="middle",
           text_color="black")
    h.text([note_xy[0]], [note_xy[1]], text=[note], text_font=value(FONT), text_font_size="21.5px",
           text_align="center", text_baseline="middle", text_color="black")
    return h


head1 = header(38, TITLES_1, [(166.5, 22), (542, 22), (908.5, 22)], LETTERS_1, [(32, 19), (443, 18), (819, 18)],
               "Super ENs", (314.5, 26))
head2 = header(39, TITLES_2, [(166.5, 16), (542, 16), (902, 16)], LETTERS_2, [(32, 20), (443, 20), (819, 19)],
               "Other ENs", (320, 25))

a = panel(A_FILLS, A_HATCH, 93, 14)
b = panel(B_FILLS, B_HATCH, 83, 14)
c = panel(C_FILLS, C_HATCH, 82, 1, bg=5, right_axis=False)
d = panel(D_FILLS, D_HATCH, 93, 14)
e = panel(E_FILLS, E_HATCH, 83, 14)
f = panel(F_FILLS, F_HATCH, 82, 1, right_axis=False)

bar = figure(frame_width=441, frame_height=21, x_range=Range1d(-30, 30), y_range=Range1d(0, 1),
             toolbar_location=None, output_backend="svg", min_border_left=348, min_border_right=10,
             min_border_top=9, min_border_bottom=25, y_axis_location=None, outline_line_color=None)
bar.grid.visible = False
bar.quad(left=LEVEL_EDGES[:-1], right=LEVEL_EDGES[1:], bottom=0, top=1, fill_color=LEVEL_COLORS,
         line_color="black", line_width=1.8)
bar.xaxis.ticker = FixedTicker(ticks=BAR_TICKS)
bar.xaxis.major_label_overrides = {v: str(v) for v in BAR_TICKS}
bar.xaxis.axis_line_color = None
bar.xaxis.major_tick_line_color = None
bar.xaxis.minor_tick_line_color = None
bar.xaxis.major_tick_out = 0
bar.xaxis.minor_tick_out = 0
bar.xaxis.major_label_text_font = FONT
bar.xaxis.major_label_text_font_size = "21px"
bar.xaxis.major_label_text_color = "black"
bar.xaxis.major_label_standoff = 4

page = column(row(head1), row(a, b, c, spacing=0), row(head2, margin=(-5, 0, -6, 0)), row(d, e, f, spacing=0),
              row(bar), spacing=0)
open("out.html", "w").write(file_html(page, INLINE))
